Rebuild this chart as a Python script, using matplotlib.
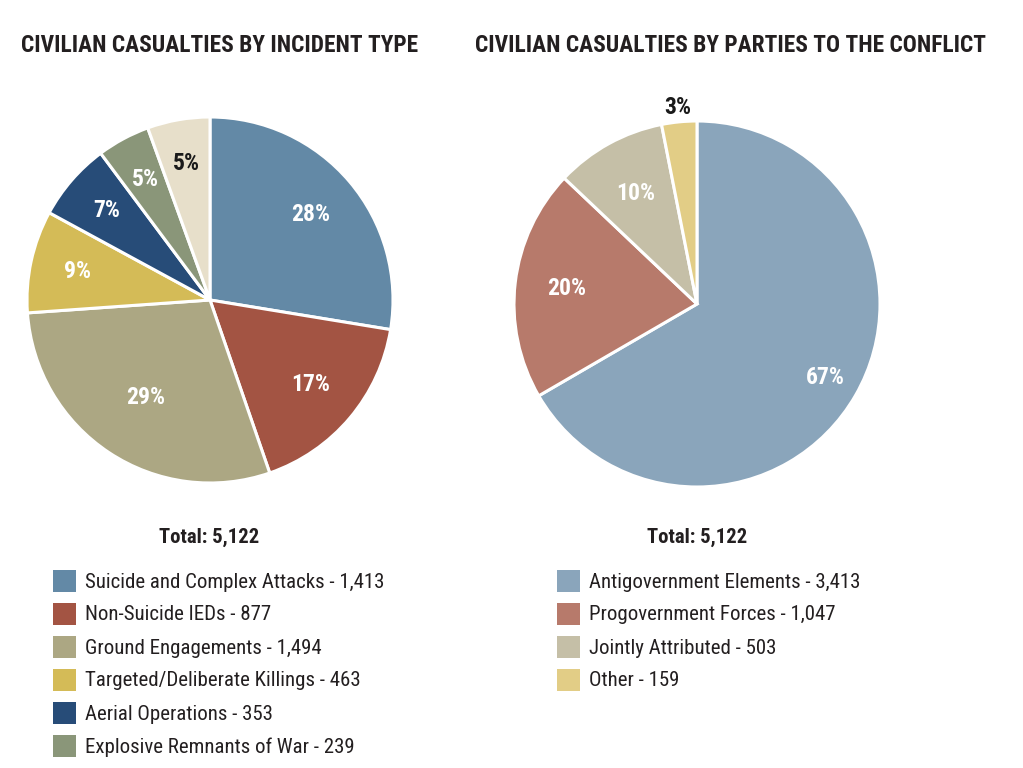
import numpy as np
import matplotlib
matplotlib.use("Agg")
import matplotlib.pyplot as plt
from matplotlib.patches import Rectangle

plt.rcParams['font.family'] = ['Roboto Condensed', 'DejaVu Sans']

# left chart: incident type (last slice has no legend entry)
incident_labels = ["Suicide and Complex Attacks", "Non-Suicide IEDs", "Ground Engagements",
                   "Targeted/Deliberate Killings", "Aerial Operations",
                   "Explosive Remnants of War", "Other"]
incident_values = [1413, 877, 1494, 463, 353, 239, 283]
incident_pct = ["28%", "17%", "29%", "9%", "7%", "5%", "5%"]
incident_colors = ["#6389a6", "#a35443", "#aca783", "#d4bb57", "#274c78", "#8a9679", "#e7dfca"]

# right chart: parties to the conflict
party_labels = ["Antigovernment Elements", "Progovernment Forces", "Jointly Attributed", "Other"]
party_values = [3413, 1047, 503, 159]
party_pct = ["67%", "20%", "10%", "3%"]
party_colors = ["#8aa5bb", "#b77a6b", "#c5bfa7", "#e2cd86"]

W, H = 1023, 768
fig = plt.figure(figsize=(W / 100, H / 100), dpi=100)


def px_axes(cx, cy, r):
    return fig.add_axes([(cx - r) / W, 1 - (cy + r) / H, 2 * r / W, 2 * r / H])


def draw_pie(ax, values, colors, pcts, dists, txtcolors):
    wedges, _ = ax.pie(values, colors=colors, startangle=90, counterclock=False,
                       wedgeprops=dict(edgecolor="white", linewidth=2.2))
    for w, p, d, c in zip(wedges, pcts, dists, txtcolors):
        ang = np.deg2rad((w.theta1 + w.theta2) / 2)
        ax.text(d * np.cos(ang), d * np.sin(ang), p, ha="center", va="center",
                fontsize=17, fontweight="bold", color=c)
    ax.set_xlim(-1, 1)
    ax.set_ylim(-1, 1)
    ax.set_aspect("equal")
    ax.axis("off")
    return wedges


ax1 = px_axes(210, 300, 183)
draw_pie(ax1, incident_values, incident_colors, incident_pct,
         [0.72, 0.72, 0.64, 0.74, 0.75, 0.75, 0.76],
         ["white"] * 6 + ["#1a1a1a"])

ax2 = px_axes(697, 304, 183)
draw_pie(ax2, party_values, party_colors, party_pct,
         [0.81, 0.72, 0.69, 1.08],
         ["white"] * 3 + ["#1a1a1a"])

# titles
fig.text(21 / W, 1 - 46 / H, "CIVILIAN CASUALTIES BY INCIDENT TYPE", fontsize=16.8,
         fontweight="bold", color="#231f20", ha="left", va="center")
fig.text(475 / W, 1 - 46 / H, "CIVILIAN CASUALTIES BY PARTIES TO THE CONFLICT", fontsize=16.8,
         fontweight="bold", color="#231f20", ha="left", va="center")

fig.text(209 / W, 1 - 537 / H, "Total: {:,}".format(sum(incident_values)), fontsize=14.9,
         fontweight="bold", color="#231f20", ha="center", va="center")
fig.text(697 / W, 1 - 537 / H, "Total: {:,}".format(sum(party_values)), fontsize=14.9,
         fontweight="bold", color="#231f20", ha="center", va="center")


def draw_legend(x0, labels, values, colors):
    for i, (lab, v, c) in enumerate(zip(labels, values, colors)):
        y = 581 + i * 33
        fig.patches.append(Rectangle((x0 / W, 1 - (y + 11) / H), 23 / W, 22 / H,
                                     facecolor=c, edgecolor="none",
                                     transform=fig.transFigure, figure=fig))
        fig.text((x0 + 32) / W, 1 - (y + 1) / H, "{} - {:,}".format(lab, v), fontsize=15,
                 color="#231f20", ha="left", va="center")


draw_legend(53, incident_labels[:6], incident_values[:6], incident_colors[:6])
draw_legend(557, party_labels, party_values, party_colors)

fig.savefig("out.png", dpi=100, facecolor="white")
